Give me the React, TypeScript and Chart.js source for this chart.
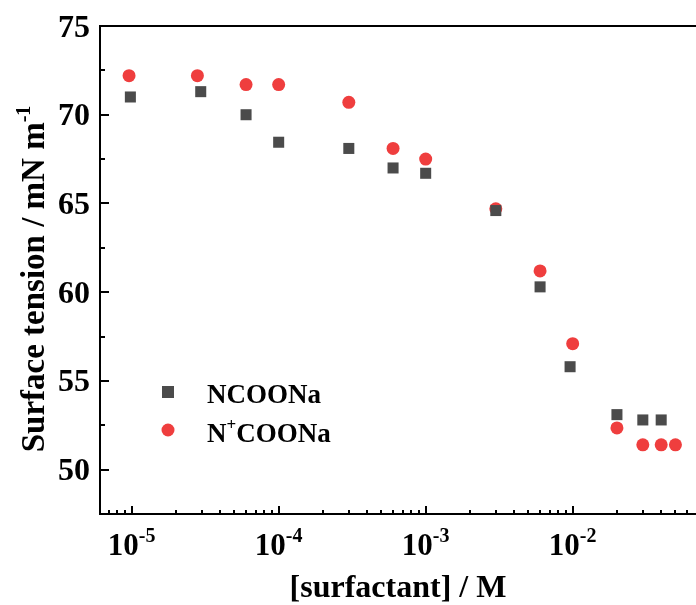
import React, { useEffect, useRef } from "react";
import { Chart, registerables } from "chart.js";

Chart.register(...registerables);

// Concentrations (M) and surface tensions (mN m^-1)
const ncoonaConc = [9.8e-6, 2.95e-5, 6e-5, 1e-4, 3e-4, 6e-4, 1e-3, 3e-3, 6e-3, 9.6e-3, 2e-2, 3e-2, 4e-2];
const ncoonaTension = [71.0, 71.3, 70.0, 68.45, 68.1, 67.0, 66.7, 64.6, 60.3, 55.8, 53.1, 52.8, 52.8];
const npcoonaConc = [9.6e-6, 2.8e-5, 6e-5, 1e-4, 3e-4, 6e-4, 1e-3, 3e-3, 6e-3, 1e-2, 2e-2, 3e-2, 4e-2, 5e-2];
const npcoonaTension = [72.2, 72.2, 71.7, 71.7, 70.7, 68.1, 67.5, 64.7, 61.2, 57.1, 52.35, 51.4, 51.4, 51.4];

const yTickLabels = [50, 55, 60, 65, 70, 75];
const xTickExponents = [-5, -4, -3, -2];

const X_MIN = 6.09e-6;
const X_MAX = 0.069;
const Y_MIN = 47.5;
const Y_MAX = 75;

const GREY = "#4b4b4b";
const RED = "#ef3e3e";
const FONT = '"Liberation Serif", "Times New Roman", serif';

const overlay = {
  id: "overlay",
  afterDraw(chart: any) {
    const { ctx, chartArea: a, scales } = chart;
    const xs = scales.x;
    const ys = scales.y;
    ctx.save();
    ctx.strokeStyle = "#000";
    ctx.fillStyle = "#000";
    ctx.lineWidth = 2;
    ctx.lineCap = "butt";
    ctx.beginPath();
    ctx.moveTo(a.left, a.top);
    ctx.lineTo(a.right, a.top);
    ctx.moveTo(a.left, a.top - 1);
    ctx.lineTo(a.left, a.bottom);
    ctx.lineTo(a.right, a.bottom);
    ctx.stroke();

    // y ticks (inward)
    ctx.beginPath();
    for (let v = 50; v < Y_MAX; v += 2.5) {
      const py = Math.round(ys.getPixelForValue(v));
      const major = v % 5 === 0;
      ctx.moveTo(a.left, py);
      ctx.lineTo(a.left + (major ? 9 : 5), py);
    }
    // x ticks (inward)
    for (let d = -6; d <= -1; d++) {
      for (let m = 1; m <= 9; m++) {
        const v = m * Math.pow(10, d);
        if (v <= X_MIN || v >= X_MAX) continue;
        const px = Math.round(xs.getPixelForValue(v));
        ctx.moveTo(px, a.bottom);
        ctx.lineTo(px, a.bottom - (m === 1 ? 8 : 4));
      }
    }
    ctx.stroke();

    // y tick labels
    ctx.font = `bold 32px ${FONT}`;
    ctx.textAlign = "right";
    ctx.textBaseline = "alphabetic";
    for (const v of yTickLabels) {
      const py = ys.getPixelForValue(v);
      ctx.fillText(String(v), a.left - 10, py + 10.5);
    }

    // x tick labels 10^n
    ctx.textAlign = "left";
    for (const e of xTickExponents) {
      const px = xs.getPixelForValue(Math.pow(10, e));
      ctx.font = `bold 31px ${FONT}`;
      const w1 = ctx.measureText("10").width;
      ctx.font = `bold 20px ${FONT}`;
      const sup = String(e);
      const w2 = ctx.measureText(sup).width;
      const start = px - (w1 + w2) / 2;
      ctx.font = `bold 31px ${FONT}`;
      ctx.fillText("10", start, 555);
      ctx.font = `bold 20px ${FONT}`;
      ctx.fillText(sup, start + w1, 542);
    }

    // x title
    ctx.font = `bold 32px ${FONT}`;
    ctx.textAlign = "center";
    ctx.fillText("[surfactant] / M", (a.left + a.right) / 2, 597);

    // y title (rotated)
    ctx.save();
    ctx.font = `bold 33px ${FONT}`;
    const main = "Surface tension / mN m";
    const wm = ctx.measureText(main).width;
    ctx.font = `bold 20px ${FONT}`;
    const ws = ctx.measureText("-1").width;
    const total = wm + ws;
    ctx.translate(44, 279 + total / 2);
    ctx.rotate(-Math.PI / 2);
    ctx.textAlign = "left";
    ctx.font = `bold 33px ${FONT}`;
    ctx.fillText(main, 0, 0);
    ctx.font = `bold 20px ${FONT}`;
    ctx.fillText("-1", wm, -14);
    ctx.restore();

    // legend
    ctx.textAlign = "left";
    ctx.fillStyle = GREY;
    ctx.fillRect(168 - 6, 392 - 6, 12, 12);
    ctx.fillStyle = RED;
    ctx.beginPath();
    ctx.arc(168, 430, 6.5, 0, Math.PI * 2);
    ctx.fill();
    ctx.fillStyle = "#000";
    ctx.font = `bold 27px ${FONT}`;
    ctx.fillText("NCOONa", 207, 402.5);
    ctx.fillText("N", 207, 441.5);
    const wN = ctx.measureText("N").width;
    ctx.font = `bold 17px ${FONT}`;
    ctx.fillText("+", 207 + wN, 430);
    const wp = ctx.measureText("+").width;
    ctx.font = `bold 27px ${FONT}`;
    ctx.fillText("COONa", 207 + wN + wp, 441.5);

    ctx.restore();
  },
};

export default function App() {
  const ref = useRef<HTMLCanvasElement | null>(null);
  useEffect(() => {
    document.body.style.margin = "0";
    const canvas = ref.current;
    if (!canvas) return;
    const chart = new Chart(canvas, {
      type: "scatter",
      data: {
        datasets: [
          {
            label: "NCOONa",
            data: ncoonaConc.map((c, i) => ({ x: c, y: ncoonaTension[i] })),
            pointStyle: "rect",
            pointRadius: 7.8,
            pointBackgroundColor: GREY,
            pointBorderWidth: 0,
            backgroundColor: GREY,
            borderColor: GREY,
            showLine: false,
          },
          {
            label: "N\u207ACOONa",
            data: npcoonaConc.map((c, i) => ({ x: c, y: npcoonaTension[i] })),
            pointStyle: "circle",
            pointRadius: 6.5,
            pointBackgroundColor: RED,
            pointBorderWidth: 0,
            backgroundColor: RED,
            borderColor: RED,
            showLine: false,
          },
        ],
      },
      options: {
        responsive: false,
        animation: false,
        devicePixelRatio: 1,
        layout: { autoPadding: false, padding: { left: 100, top: 26, right: 0, bottom: 91 } },
        plugins: { legend: { display: false }, tooltip: { enabled: false } },
        scales: {
          x: { type: "logarithmic", min: X_MIN, max: X_MAX, display: false },
          y: { type: "linear", min: Y_MIN, max: Y_MAX, display: false },
        },
      },
      plugins: [overlay],
    });
    return () => chart.destroy();
  }, []);
  return <canvas ref={ref} width={696} height={605} style={{ display: "block" }} />;
}
